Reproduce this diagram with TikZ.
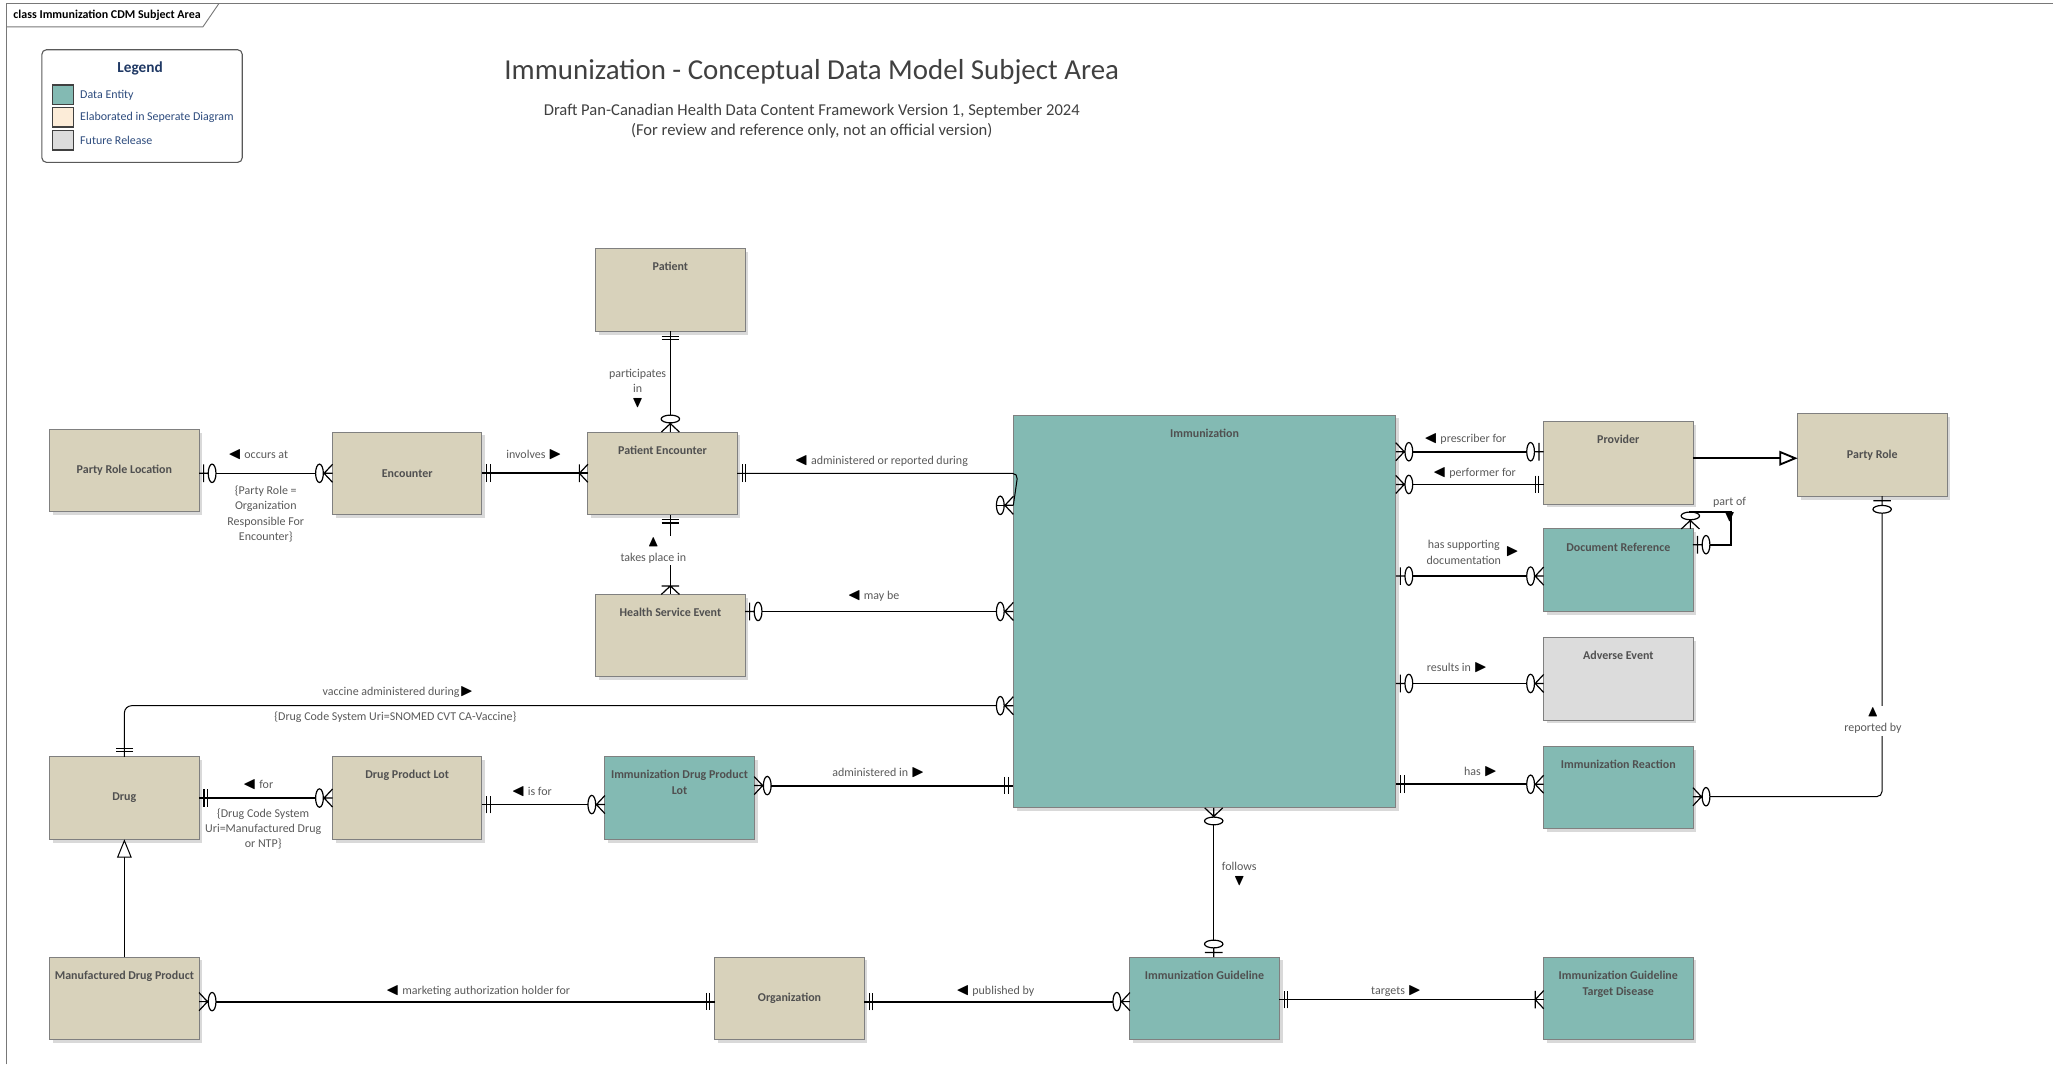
\documentclass[tikz,border=0pt]{standalone}
\usepackage{amsmath}
\usepackage{amssymb}
\usepackage{fontspec}
\setmainfont{Carlito}
\usetikzlibrary{arrows.meta,shadows,calc}

\definecolor{entitytan}{RGB}{216,210,187}
\definecolor{entityteal}{RGB}{131,186,179}
\definecolor{entitygray}{RGB}{220,220,220}
\definecolor{elabpeach}{RGB}{252,236,216}
\definecolor{boxgray}{RGB}{128,128,128}
\definecolor{entitytext}{RGB}{80,80,80}
\definecolor{labelgray}{RGB}{89,89,89}
\definecolor{titlegray}{RGB}{64,64,64}
\definecolor{legendblue}{RGB}{31,56,100}
\definecolor{legendtext}{RGB}{45,75,125}
\definecolor{framegray}{RGB}{120,120,120}

\newcommand{\entfont}{\bfseries\fontsize{6.5}{8.6}\selectfont}
\newcommand{\lblfont}{\fontsize{6.5}{8.3}\selectfont}
\newcommand{\lefttri}{\textcolor{black}{\scalebox{1.3}{$\blacktriangleleft$}}}
\newcommand{\righttri}{\textcolor{black}{\scalebox{1.3}{$\blacktriangleright$}}}
\newcommand{\uptri}{\textcolor{black}{\scalebox{1.3}{$\blacktriangle$}}}
\newcommand{\downtri}{\textcolor{black}{\scalebox{1.3}{$\blacktriangledown$}}}

% crow's foot ends
\pgfdeclarearrow{
  name = ERone,
  setup code = {
    \pgfarrowssettipend{0pt}
    \pgfarrowssetlineend{0pt}
    \pgfarrowssetbackend{-5pt}
    \pgfarrowsupperhullpoint{0pt}{5pt}
    \pgfarrowsupperhullpoint{-5pt}{5pt}
  },
  drawing code = {
    \pgfsetlinewidth{0.65pt}
    \pgfpathmoveto{\pgfpoint{-2.7pt}{4.8pt}}
    \pgfpathlineto{\pgfpoint{-2.7pt}{-4.8pt}}
    \pgfpathmoveto{\pgfpoint{-4.6pt}{4.8pt}}
    \pgfpathlineto{\pgfpoint{-4.6pt}{-4.8pt}}
    \pgfusepathqstroke
  }
}
\pgfdeclarearrow{
  name = ERonemany,
  setup code = {
    \pgfarrowssettipend{0pt}
    \pgfarrowssetlineend{0pt}
    \pgfarrowssetbackend{-5pt}
    \pgfarrowsupperhullpoint{0pt}{5pt}
    \pgfarrowsupperhullpoint{-5pt}{5pt}
  },
  drawing code = {
    \pgfsetlinewidth{0.65pt}
    \pgfpathmoveto{\pgfpoint{0pt}{4.9pt}}
    \pgfpathlineto{\pgfpoint{-4.6pt}{0pt}}
    \pgfpathlineto{\pgfpoint{0pt}{-4.9pt}}
    \pgfpathmoveto{\pgfpoint{-4.6pt}{4.8pt}}
    \pgfpathlineto{\pgfpoint{-4.6pt}{-4.8pt}}
    \pgfusepathqstroke
  }
}
\pgfdeclarearrow{
  name = ERzeroone,
  setup code = {
    \pgfarrowssettipend{0pt}
    \pgfarrowssetlineend{-9.2pt}
    \pgfarrowssetbackend{-9.2pt}
    \pgfarrowsupperhullpoint{0pt}{5pt}
    \pgfarrowsupperhullpoint{-9.2pt}{5pt}
  },
  drawing code = {
    \pgfsetlinewidth{0.65pt}
    \pgfpathmoveto{\pgfpoint{-2.5pt}{4.8pt}}
    \pgfpathlineto{\pgfpoint{-2.5pt}{-4.8pt}}
    \pgfpathmoveto{\pgfpoint{0pt}{0pt}}
    \pgfpathlineto{\pgfpoint{-5pt}{0pt}}
    \pgfpathellipse{\pgfpoint{-7.1pt}{0pt}}{\pgfpoint{2.1pt}{0pt}}{\pgfpoint{0pt}{5pt}}
    \pgfusepathqstroke
  }
}
\pgfdeclarearrow{
  name = ERzeromany,
  setup code = {
    \pgfarrowssettipend{0pt}
    \pgfarrowssetlineend{-9.2pt}
    \pgfarrowssetbackend{-9.2pt}
    \pgfarrowsupperhullpoint{0pt}{5pt}
    \pgfarrowsupperhullpoint{-9.2pt}{5pt}
  },
  drawing code = {
    \pgfsetlinewidth{0.65pt}
    \pgfpathmoveto{\pgfpoint{0pt}{4.9pt}}
    \pgfpathlineto{\pgfpoint{-4.6pt}{0pt}}
    \pgfpathlineto{\pgfpoint{0pt}{-4.9pt}}
    \pgfpathmoveto{\pgfpoint{0pt}{0pt}}
    \pgfpathlineto{\pgfpoint{-5pt}{0pt}}
    \pgfpathellipse{\pgfpoint{-7.1pt}{0pt}}{\pgfpoint{2.1pt}{0pt}}{\pgfpoint{0pt}{5pt}}
    \pgfusepathqstroke
  }
}

\tikzset{
  ent/.style={draw=boxgray, line width=0.5pt, minimum width=2.85cm, minimum height=1.575cm,
    inner sep=0pt, outer sep=0pt, font=\entfont, text=entitytext, align=center,
    drop shadow={shadow xshift=1.8pt, shadow yshift=-1.8pt, fill=black!15, opacity=1}},
  tanent/.style={ent, fill=entitytan},
  tealent/.style={ent, fill=entityteal},
  grayent/.style={ent, fill=entitygray},
  toptitle/.style={anchor=north, inner sep=0pt, yshift=-7.3pt, align=center, font=\entfont, text=entitytext},
  rlab/.style={font=\lblfont, text=labelgray, align=center, inner sep=0pt},
  rlabw/.style={rlab, fill=white, inner sep=1pt},
  rel/.style={line width=0.55pt},
  relb/.style={line width=1pt},
  gen/.style={-{Triangle[length=10pt, width=8pt, fill=white]}},
  swatch/.style={draw=black!75, line width=0.8pt, minimum width=0.4cm, minimum height=0.375cm, inner sep=0pt},
  legtext/.style={font=\fontsize{6.5}{7.5}\selectfont, text=legendtext, anchor=west, inner sep=0pt}
}

\begin{document}
\begin{tikzpicture}[x=0.025cm, y=-0.025cm]
  \useasboundingbox (0,0) rectangle (1568,813);

  % frame and tab
  \draw[framegray, line width=0.5pt] (5,813) -- (5,3) -- (1568,3);
  \draw[framegray, line width=0.5pt] (5,20.5) -- (155,20.5) -- (167,3);
  \node[font=\bfseries\fontsize{6.5}{8}\selectfont, anchor=west, inner sep=0pt] (tab) at (10,12) {class Immunization CDM Subject Area};

  % legend
  \node[draw=black!65, line width=0.6pt, rounded corners=2.5pt, minimum width=3.825cm, minimum height=2.15cm] (legend) at (108.5,81) {};
  \node[font=\bfseries\fontsize{8.3}{10}\selectfont, text=legendblue] (legtitle) at (107,52) {Legend};
  \foreach \i/\c/\t/\y in {1/entityteal/Data Entity/72.5, 2/elabpeach/Elaborated in Seperate Diagram/89.5, 3/entitygray/Future Release/107} {
    \node[swatch, fill=\c] (sw\i) at (48,\y) {};
    \node[legtext] (lt\i) at (61,\y) {\t};
  }

  % titles
  \node[font=\fontsize{15.7}{18}\selectfont, text=titlegray] (title) at (620,55) {Immunization - Conceptual Data Model Subject Area};
  \node[font=\fontsize{9}{11}\selectfont, text=titlegray] (sub1) at (620,85) {Draft Pan-Canadian Health Data Content Framework Version 1, September 2024};
  \node[font=\fontsize{9}{11}\selectfont, text=titlegray] (sub2) at (620,100) {(For review and reference only, not an official version)};

  % entities
  \node[tanent] (prl) at (95,359.5) {Party Role Location};
  \node[tanent] (enc) at (311,361.5) {Encounter};
  \node[tanent, label={[toptitle]north:Patient Encounter}] (pe) at (506,361.5) {};
  \node[tanent, label={[toptitle]north:Patient}] (pat) at (512,221.5) {};
  \node[tanent, label={[toptitle]north:Health Service Event}] (hse) at (512,485.5) {};
  \node[tealent, minimum width=7.3cm, minimum height=7.5cm, label={[toptitle]north:Immunization}] (imm) at (920,467) {};
  \node[tanent, label={[toptitle]north:Provider}] (prov) at (1236,353.5) {};
  \node[tanent] (prole) at (1430,347.5) {Party Role};
  \node[tealent, label={[toptitle]north:Document Reference}] (docref) at (1236,435.5) {};
  \node[grayent, label={[toptitle]north:Adverse Event}] (ae) at (1236,518.5) {};
  \node[tealent, label={[toptitle]north:Immunization Reaction}] (ir) at (1236,601.5) {};
  \node[tanent] (drug) at (95,609.5) {Drug};
  \node[tanent, label={[toptitle]north:Drug Product Lot}] (dpl) at (311,609.5) {};
  \node[tealent, label={[toptitle]north:Immunization Drug Product\\Lot}] (idpl) at (519,609.5) {};
  \node[tanent, label={[toptitle]north:Manufactured Drug Product}] (mdp) at (95,762.5) {};
  \node[tanent] (org) at (603,762.5) {Organization};
  \node[tealent, label={[toptitle]north:Immunization Guideline}] (ig) at (920,762.5) {};
  \node[tealent, label={[toptitle]north:Immunization Guideline\\Target Disease}] (igtd) at (1236,762.5) {};

  % relationships
  \draw[rel, ERzeroone-ERzeromany] (prl.east |- enc.west) -- (enc.west);
  \draw[relb, ERone-ERonemany] (enc.east) -- (enc.east -| pe.west);
  \draw[rel, ERone-ERzeromany] (pat.south) -- (pat.south |- pe.north);
  \draw[rel, ERone-ERonemany] (hse.north |- pe.south) -- (hse.north);

  \coordinate (pebend) at ($(imm.north west)+(3.5,0)$);
  \coordinate (peend) at ($(imm.north west)+(0,69)$);
  \draw[rel, ERone-, rounded corners=3pt] (pe.east) -- (pe.east -| pebend) -- (peend);
  \draw[rel, -ERzeromany] ($(peend)+(-1,0)$) -- (peend);

  \draw[rel, ERzeroone-ERzeromany] ($(hse.north east)+(0,13)$) coordinate (h1) -- (h1 -| imm.west);
  \draw[rel, rounded corners=4pt, ERone-ERzeromany] (drug.north) |- ($(imm.north west)+(0,222)$);
  \draw[relb, ERone-ERzeromany] (drug.east) -- (dpl.west);
  \draw[relb, ERone-ERzeromany] ($(dpl.east)+(0,5)$) coordinate (d1) -- (d1 -| idpl.west);
  \draw[relb, ERzeromany-ERone] ($(idpl.east)+(0,-9.5)$) coordinate (d2) -- (d2 -| imm.west);

  \draw[relb, ERzeroone-ERzeromany] ($(prov.west)+(0,-8.5)$) coordinate (p1) -- (p1 -| imm.east);
  \draw[relb, ERone-ERzeromany] ($(prov.west)+(0,16.5)$) coordinate (p2) -- (p2 -| imm.east);
  \draw[relb, gen] ($(prov.east)+(0,-3.5)$) coordinate (p3) -- (p3 -| prole.west);
  \draw[relb, ERzeromany-ERzeroone] ($(docref.west)+(0,4.5)$) coordinate (p4) -- (p4 -| imm.east);
  \draw[relb, ERzeromany-ERzeroone] ($(docref.north east)+(-2,0)$) |- ($(docref.north east)+(29,-13)$) |- ($(docref.east)+(0,-19.5)$);
  \draw[relb, ERzeromany-ERzeroone] ($(ae.west)+(0,3.5)$) coordinate (p5) -- (p5 -| imm.east);
  \draw[relb, ERzeromany-ERone] ($(ir.west)+(0,-2.5)$) coordinate (p6) -- (p6 -| imm.east);
  \draw[rel, rounded corners=3pt, ERzeromany-ERzeroone] ($(ir.east)+(0,7)$) -| ($(prole.south)+(7.5,0)$);

  \draw[rel, ERzeromany-ERzeroone] ($(imm.south)+(7,0)$) coordinate (f1) -- (f1 |- ig.north);
  \draw[relb, ERzeromany-ERone] ($(mdp.east)+(0,2.5)$) coordinate (m1) -- (m1 -| org.west);
  \draw[relb, ERone-ERzeromany] ($(org.east)+(0,2.5)$) coordinate (o1) -- (o1 -| ig.west);
  \draw[rel, ERone-ERonemany] ($(ig.east)+(0,1)$) coordinate (o2) -- (o2 -| igtd.west);
  \draw[rel, gen] (mdp.north) -- (drug.south);

  % relationship labels
  \node[rlab] (loccurs) at (197,347) {\lefttri\ occurs at};
  \node[rlab] (lprlc) at (203,392.5) {\{Party Role =\\Organization\\Responsible For\\Encounter\}};
  \node[rlab] (linvolves) at (408,347) {involves \righttri};
  \node[rlab] (lpart) at (487,296.5) {participates\\in\\\downtri};
  \node[rlabw] (ltakes) at (499,420.5) {\uptri\\takes place in};
  \node[rlab] (ladmrep) at (673,352.5) {\lefttri\ administered or reported during};
  \node[rlab] (lmaybe) at (667,455) {\lefttri\ may be};
  \node[rlab] (lvacc) at (304,528.5) {vaccine administered during\righttri};
  \node[rlab] (lvaccc) at (302,547.5) {\{Drug Code System Uri=SNOMED CVT CA-Vaccine\}};
  \node[rlab] (lfor) at (197,599) {\lefttri\ for};
  \node[rlab] (lforc) at (201,633) {\{Drug Code System\\Uri=Manufactured Drug\\or NTP\}};
  \node[rlab] (lisfor) at (406,605) {\lefttri\ is for};
  \node[rlab] (ladmin) at (671,590) {administered in \righttri};
  \node[rlab] (lpresc) at (1119,335) {\lefttri\ prescriber for};
  \node[rlab] (lperf) at (1126,361) {\lefttri\ performer for};
  \node[rlab] (lsupp) at (1118,422) {has supporting\\documentation};
  \node[rlab] (lsuppt) at (1155,421.5) {\righttri};
  \node[rlab] (lpartof) at (1321,389) {part of\\\downtri};
  \node[rlab] (lresults) at (1113,510) {results in \righttri};
  \node[rlab] (lhas) at (1131,589.5) {has \righttri};
  \node[rlabw] (lrep) at (1430.5,550.5) {\uptri\\reported by};
  \node[rlab] (lfollows) at (946.5,667.5) {follows\\\downtri};
  \node[rlab] (lmarket) at (365,757) {\lefttri\ marketing authorization holder for};
  \node[rlab] (lpub) at (760,757) {\lefttri\ published by};
  \node[rlab] (ltargets) at (1066.5,757) {targets \righttri};
\end{tikzpicture}
\end{document}
